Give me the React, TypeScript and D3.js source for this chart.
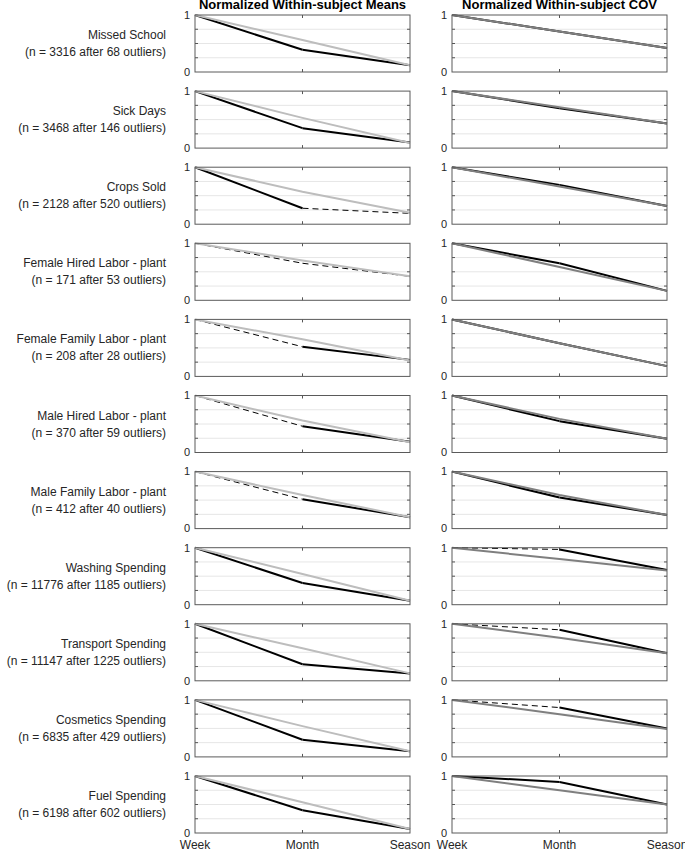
import React from "react";
import * as d3 from "d3";

const categories = [
  "Missed School",
  "Sick Days",
  "Crops Sold",
  "Female Hired Labor - plant",
  "Female Family Labor - plant",
  "Male Hired Labor - plant",
  "Male Family Labor - plant",
  "Washing Spending",
  "Transport Spending",
  "Cosmetics Spending",
  "Fuel Spending",
];
const nLabels = [
  "(n = 3316 after 68 outliers)",
  "(n = 3468 after 146 outliers)",
  "(n = 2128 after 520 outliers)",
  "(n = 171 after 53 outliers)",
  "(n = 208 after 28 outliers)",
  "(n = 370 after 59 outliers)",
  "(n = 412 after 40 outliers)",
  "(n = 11776 after 1185 outliers)",
  "(n = 11147 after 1225 outliers)",
  "(n = 6835 after 429 outliers)",
  "(n = 6198 after 602 outliers)",
];
const xLabels = ["Week", "Month", "Season"];
const yTickLabels = ["0", "1"];
const titles = ["Normalized Within-subject Means", "Normalized Within-subject COV"];

const meansBlack = [
  [1, 0.39, 0.12],
  [1, 0.35, 0.1],
  [1, 0.28, 0.19],
  [1, 0.65, 0.42],
  [1, 0.52, 0.29],
  [1, 0.46, 0.19],
  [1, 0.515, 0.2],
  [1, 0.38, 0.07],
  [1, 0.29, 0.13],
  [1, 0.3, 0.1],
  [1, 0.4, 0.07],
];
const meansGray = [
  [1, 0.56, 0.12],
  [1, 0.53, 0.09],
  [1, 0.57, 0.2],
  [1, 0.7, 0.42],
  [1, 0.65, 0.28],
  [1, 0.56, 0.18],
  [1, 0.59, 0.2],
  [1, 0.54, 0.07],
  [1, 0.57, 0.13],
  [1, 0.54, 0.1],
  [1, 0.54, 0.07],
];
const meansDashed = [
  [0, 0], [0, 0], [0, 1], [1, 1], [1, 0], [1, 0], [1, 0], [0, 0], [0, 0], [0, 0], [0, 0],
];
const covBlack = [
  [1, 0.71, 0.42],
  [1, 0.7, 0.43],
  [1, 0.69, 0.32],
  [1, 0.65, 0.165],
  [1, 0.58, 0.18],
  [1, 0.55, 0.24],
  [1, 0.545, 0.24],
  [1, 0.97, 0.61],
  [1, 0.895, 0.485],
  [1, 0.866, 0.5],
  [1, 0.895, 0.5],
];
const covGray = [
  [1, 0.71, 0.42],
  [1, 0.715, 0.43],
  [1, 0.66, 0.32],
  [1, 0.585, 0.165],
  [1, 0.58, 0.18],
  [1, 0.59, 0.24],
  [1, 0.59, 0.24],
  [1, 0.8, 0.6],
  [1, 0.755, 0.485],
  [1, 0.75, 0.49],
  [1, 0.75, 0.5],
];
const covDashed = [
  [0, 0], [0, 0], [0, 0], [0, 0], [0, 0], [0, 0], [0, 0], [1, 0], [1, 0], [1, 0], [0, 0],
];

const W = 685;
const H = 850;
const colX = [195, 452];
const panelW = 215;
const top0 = 15;
const rowStep = 76.1;
const panelH = 57;
const FONT = "Liberation Sans, Arial, Helvetica, sans-serif";

const grayColors = ["#bdbdbd", "#7f7f7f"];

function Panel({ col, row }: { col: number; row: number }) {
  const x0 = colX[col];
  const y0 = top0 + row * rowStep;
  const x = d3.scalePoint<string>().domain(xLabels).range([x0, x0 + panelW]);
  const y = d3.scaleLinear().domain([0, 1]).range([y0 + panelH, y0]);
  const black = col === 0 ? meansBlack[row] : covBlack[row];
  const gray = col === 0 ? meansGray[row] : covGray[row];
  const dashed = col === 0 ? meansDashed[row] : covDashed[row];
  const line = d3
    .line<[string, number]>()
    .x((d) => x(d[0]) as number)
    .y((d) => y(d[1]));
  const grid = [0.25, 0.5, 0.75];
  const isLast = row === categories.length - 1;
  return (
    <g>
      {grid.map((g) => (
        <line key={"g" + g} x1={x0} x2={x0 + panelW} y1={y(g)} y2={y(g)} stroke="#e6e6e6" strokeWidth={1} />
      ))}
      {grid.map((g) => (
        <g key={"t" + g}>
          <line x1={x0} x2={x0 + 3} y1={y(g)} y2={y(g)} stroke="#555" strokeWidth={1} />
          <line x1={x0 + panelW - 3} x2={x0 + panelW} y1={y(g)} y2={y(g)} stroke="#555" strokeWidth={1} />
        </g>
      ))}
      <line x1={x("Month")} x2={x("Month")} y1={y0} y2={y0 + 3} stroke="#555" strokeWidth={1} />
      <line x1={x("Month")} x2={x("Month")} y1={y0 + panelH - 3} y2={y0 + panelH} stroke="#555" strokeWidth={1} />
      {[0, 1].map((i) => (
        <path
          key={"b" + i}
          d={line([
            [xLabels[i], black[i]],
            [xLabels[i + 1], black[i + 1]],
          ]) as string}
          fill="none"
          stroke="#000"
          strokeWidth={dashed[i] ? 1 : 2}
          strokeDasharray={dashed[i] ? "6,4" : undefined}
        />
      ))}
      <path
        d={line(xLabels.map((l, i) => [l, gray[i]] as [string, number])) as string}
        fill="none"
        stroke={grayColors[col]}
        strokeWidth={2}
        strokeLinejoin="round"
      />
      <rect x={x0} y={y0} width={panelW} height={panelH} fill="none" stroke="#5a5a5a" strokeWidth={1} />
      {yTickLabels.map((t, i) => (
        <text
          key={"yl" + t}
          x={x0 - 5}
          y={y(i)}
          dy="0.35em"
          textAnchor="end"
          fontSize={11}
          fill="#262626"
          fontFamily={FONT}
        >
          {t}
        </text>
      ))}
      {isLast &&
        xLabels.map((l) => (
          <text
            key={"xl" + l}
            x={x(l)}
            y={y0 + panelH + 15.5}
            textAnchor="middle"
            fontSize={12}
            fill="#262626"
            fontFamily={FONT}
          >
            {l}
          </text>
        ))}
    </g>
  );
}

export default function App() {
  return (
    <svg
      width={W}
      height={H}
      style={{ position: "absolute", left: 0, top: 0, background: "#fff" }}
      fontFamily={FONT}
    >
      <rect x={0} y={0} width={W} height={H} fill="#fff" />
      {titles.map((t, c) => (
        <text
          key={t}
          x={colX[c] + panelW / 2}
          y={9}
          textAnchor="middle"
          fontSize={13}
          fontWeight="bold"
          fill="#000"
        >
          {t}
        </text>
      ))}
      {categories.map((c, r) => (
        <g key={c}>
          <text x={166} y={top0 + r * rowStep + 24} textAnchor="end" fontSize={12} fill="#262626">
            {c}
          </text>
          <text x={166} y={top0 + r * rowStep + 41} textAnchor="end" fontSize={12} fill="#262626">
            {nLabels[r]}
          </text>
          <Panel col={0} row={r} />
          <Panel col={1} row={r} />
        </g>
      ))}
    </svg>
  );
}
